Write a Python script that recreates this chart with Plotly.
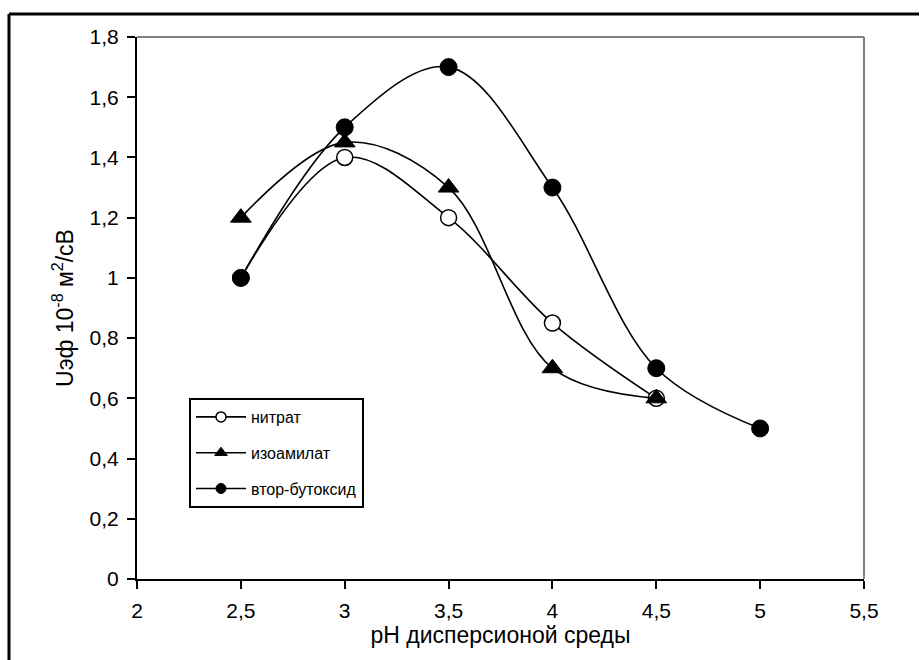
import plotly.graph_objects as go

x_nitrat = [2.5, 3.0, 3.5, 4.0, 4.5]
y_nitrat = [1.0, 1.4, 1.2, 0.85, 0.6]

x_izo = [2.5, 3.0, 3.5, 4.0, 4.5]
y_izo = [1.2, 1.45, 1.3, 0.7, 0.6]

x_vtor = [2.5, 3.0, 3.5, 4.0, 4.5, 5.0]
y_vtor = [1.0, 1.5, 1.7, 1.3, 0.7, 0.5]

names = ["нитрат", "изоамилат", "втор-бутоксид"]
x_ticks = [2, 2.5, 3, 3.5, 4, 4.5, 5, 5.5]
y_ticks = [0, 0.2, 0.4, 0.6, 0.8, 1.0, 1.2, 1.4, 1.6, 1.8]

FONT = "Liberation Sans, Arial, sans-serif"

fig = go.Figure()
line = dict(color="black", width=1.6, shape="spline", smoothing=1.0)

series = [
    (x_nitrat, y_nitrat, "circle", 16, 10, "white", 1.5),
    (x_izo, y_izo, "triangle-up", 18, 11, "black", 1),
    (x_vtor, y_vtor, "circle", 17, 10, "black", 1),
]

for i, (xs, ys, sym, size, lsize, fill, lw) in enumerate(series):
    fig.add_trace(go.Scatter(x=xs, y=ys, mode="lines+markers", name=names[i],
                             showlegend=False, line=line,
                             marker=dict(symbol=sym, size=size, color=fill,
                                         line=dict(color="black", width=lw)),
                             cliponaxis=False))
# legend entries (smaller markers, as in the reference legend)
for i, (xs, ys, sym, size, lsize, fill, lw) in enumerate(series):
    fig.add_trace(go.Scatter(x=[None], y=[None], mode="lines+markers", name=names[i],
                             legendgroup=str(i), line=dict(color="black", width=1.6),
                             marker=dict(symbol=sym, size=lsize, color=fill,
                                         line=dict(color="black", width=lw))))

L, R, T, B = 137, 56, 37, 81
W, H = 920, 660
pw = W - L - R
ph = H - T - B

def px(xp):
    return (xp - L) / pw

def py(yp):
    return (H - B - yp) / ph

shapes = [
    dict(type="line", xref="paper", yref="paper",
         x0=px(9), x1=px(919), y0=py(14), y1=py(14),
         line=dict(color="black", width=3), layer="below"),
    dict(type="line", xref="paper", yref="paper",
         x0=px(9), x1=px(9), y0=py(14), y1=py(720),
         line=dict(color="black", width=3), layer="below"),
    dict(type="line", xref="paper", yref="paper", x0=0, x1=1, y0=1, y1=1,
         line=dict(color="#808080", width=2)),
    dict(type="line", xref="paper", yref="paper", x0=1, x1=1, y0=0, y1=1,
         line=dict(color="#808080", width=2)),
]

fig.update_layout(
    width=W, height=H,
    margin=dict(l=L, r=R, t=T, b=B),
    paper_bgcolor="white", plot_bgcolor="white",
    separators=", ",
    font=dict(family=FONT, color="black", size=20),
    showlegend=True,
    legend=dict(x=px(189), y=py(398), xanchor="left", yanchor="top",
                bordercolor="black", borderwidth=2, bgcolor="white",
                font=dict(family=FONT, size=16, color="black"),
                tracegroupgap=12, itemwidth=50),
    shapes=shapes,
    xaxis=dict(range=[2, 5.5], tickvals=x_ticks, showgrid=False, zeroline=False,
               showline=True, linecolor="black", linewidth=2,
               ticks="outside", ticklen=8, tickwidth=1.5, tickcolor="black",
               tickfont=dict(size=21), ticklabelstandoff=4,
               title=dict(text="pH дисперсионой среды", font=dict(size=23), standoff=0)),
    yaxis=dict(range=[0, 1.8], tickvals=y_ticks, showgrid=False, zeroline=False,
               showline=True, linecolor="black", linewidth=2,
               ticks="outside", ticklen=8, tickwidth=1.5, tickcolor="black",
               tickfont=dict(size=21), ticklabelstandoff=4,
               title=dict(text="Uэф 10<sup>-8</sup> м<sup>2</sup>/сВ", font=dict(size=23), standoff=10)),
)

fig.write_html("out.html")
